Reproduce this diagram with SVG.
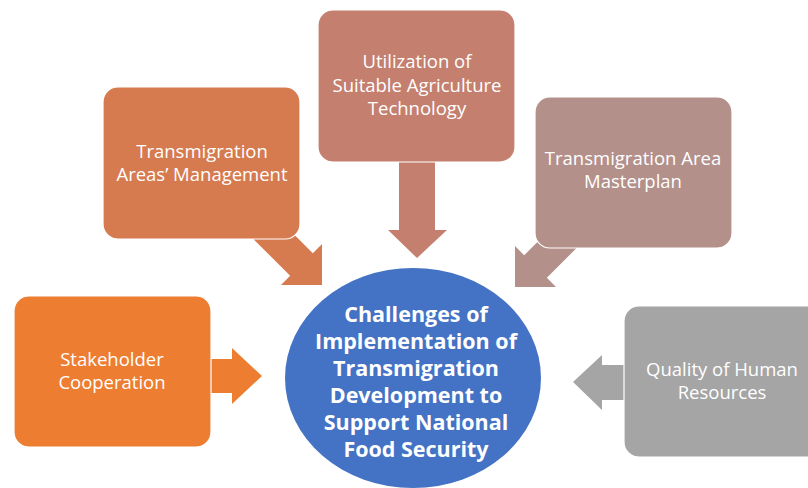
<svg xmlns="http://www.w3.org/2000/svg" width="808" height="488" viewBox="0 0 808 488">
<style>
.box{stroke:#ffffff;stroke-width:1.2}
.t{font-family:"Open Sans","Noto Sans",sans-serif;font-size:18.5px;fill:#ffffff;text-anchor:middle}
.tb{font-family:"Open Sans","Noto Sans",sans-serif;font-size:21.5px;font-weight:bold;fill:#ffffff;text-anchor:middle}
</style>
<rect width="808" height="488" fill="#ffffff"/>
<g id="connectors">
  <polygon id="arrow-tam" fill="#D67A50" transform="translate(322,285) rotate(45)" points="-100,-16 -29,-16 -29,-29 0,0 -29,29 -29,16 -100,16"/>
  <polygon id="arrow-util" fill="#C47F6E" points="399,150 435,150 435,230 447,230 417,258 388,230 399,230"/>
  <polygon id="arrow-master" fill="#B4908A" transform="translate(515,287) rotate(135)" points="-100,-16 -29,-16 -29,-29 0,0 -29,29 -29,16 -100,16"/>
  <polygon id="arrow-stake" fill="#ED7D31" points="205,359 232,359 232,348 262,376 232,404 232,393 205,393"/>
  <polygon id="arrow-quality" fill="#A5A5A5" points="630,365 602,365 602,355 573,382 602,410 602,400 630,400"/>
</g>
<g id="node-tam">
  <rect class="box" x="103" y="87" width="197" height="152" rx="15" fill="#D67A50"/>
  <text class="t" x="202" y="158">Transmigration</text>
  <text class="t" x="202" y="181">Areas’ Management</text>
</g>
<g id="node-util">
  <rect class="box" x="318" y="10" width="197" height="152" rx="15" fill="#C47F6E"/>
  <text class="t" x="417" y="68">Utilization of</text>
  <text class="t" x="417" y="92">Suitable Agriculture</text>
  <text class="t" x="417" y="115">Technology</text>
</g>
<g id="node-master">
  <rect class="box" x="535" y="97" width="197" height="151" rx="15" fill="#B4908A"/>
  <text class="t" x="633" y="165">Transmigration Area</text>
  <text class="t" x="633" y="188">Masterplan</text>
</g>
<g id="node-stake">
  <rect class="box" x="14" y="296" width="197" height="151" rx="15" fill="#ED7D31"/>
  <text class="t" x="112" y="366">Stakeholder</text>
  <text class="t" x="112" y="389">Cooperation</text>
</g>
<g id="node-quality">
  <rect class="box" x="624" y="306" width="200" height="151" rx="15" fill="#A5A5A5"/>
  <text class="t" x="722" y="376">Quality of Human</text>
  <text class="t" x="722" y="399">Resources</text>
</g>
<g id="node-center">
  <ellipse cx="413" cy="378" rx="128" ry="110" fill="#4472C4"/>
  <text class="tb" x="416" y="322">Challenges of</text>
  <text class="tb" x="416" y="349">Implementation of</text>
  <text class="tb" x="416" y="376">Transmigration</text>
  <text class="tb" x="416" y="403">Development to</text>
  <text class="tb" x="416" y="430">Support National</text>
  <text class="tb" x="416" y="457">Food Security</text>
</g>
</svg>
